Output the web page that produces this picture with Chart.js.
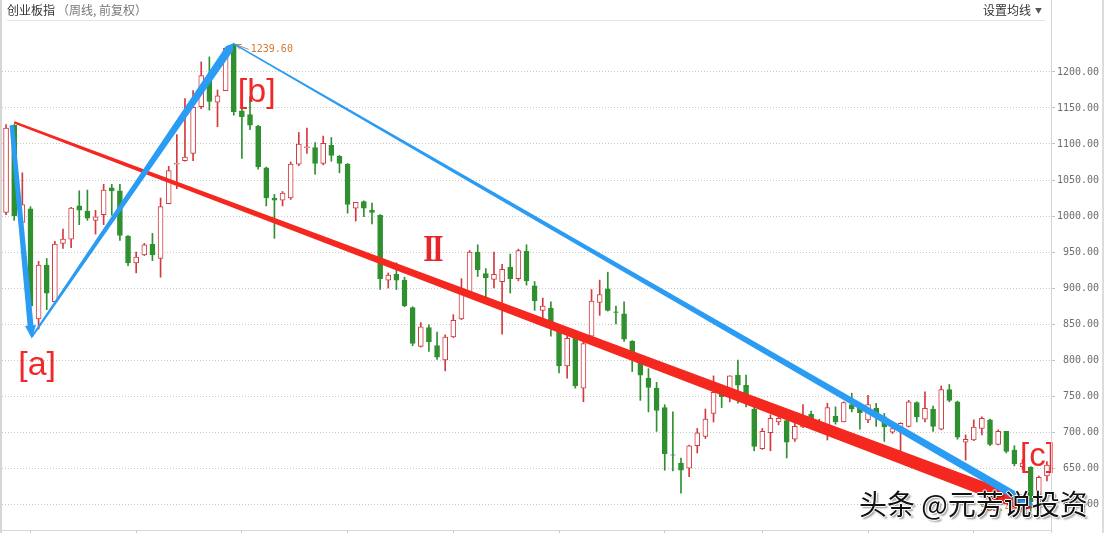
<!DOCTYPE html>
<html>
<head>
<meta charset="utf-8">
<title>创业板指 周线</title>
<script src="https://cdn.jsdelivr.net/npm/chart.js@4.4.1/dist/chart.umd.min.js"></script>
<style>
  html, body { margin: 0; padding: 0; background: #fff; }
  #wrap { position: relative; width: 1107px; height: 533px; overflow: hidden;
          font-family: "Noto Sans CJK SC", "Noto Sans", sans-serif; }
  #wrap canvas { position: absolute; left: 0; top: 0; }
  .title { position: absolute; left: 7px; top: 2px; font-size: 12px; line-height: 16px;
           color: #333; white-space: nowrap; }
  .title span { color: #777; margin-left: 2px; }
  .ma { position: absolute; right: 65px; top: 2px; font-size: 12px; line-height: 16px;
        color: #333; white-space: nowrap; }
  .ma i { font-style: normal; font-size: 7px; color: #555; margin-left: 4px; vertical-align: 2px; }
  .rule { position: absolute; left: 7px; top: 20px; width: 1038px; height: 1px; background: #e4e4e4; }
  .vline { position: absolute; top: 0; height: 533px; }
  .mark { position: absolute; left: 859px; top: 489px; font-size: 28px; line-height: 28px;
          color: #111; white-space: nowrap;
          text-shadow: 1px 0 0 #fff, -1px 0 0 #fff, 0 1px 0 #fff, 0 -1px 0 #fff,
                       2px 2px 2px rgba(0,0,0,0.45); }
</style>
</head>
<body>
<div id="wrap">
  <canvas id="kline" width="1107" height="533"></canvas>
  <div class="vline" style="left:0;width:2px;background:#d6d6d6"></div>
  <div class="vline" style="left:1051px;width:1px;background:#d4d4d4"></div>
  <div class="vline" style="left:1102px;width:2px;background:#dcdcdc"></div>
  <div class="title">创业板指<span>（周线, 前复权）</span></div>
  <div class="ma">设置均线<i>▼</i></div>
  <div class="rule"></div>
  <div class="mark">头条 @元芳说投资</div>
</div>
<script>
// Weekly OHLC of the ChiNext index (前复权)
const opens = [
  1005, 1126, 991, 1010, 857, 932, 881, 962, 968, 1014,
  1007, 994, 1002, 1039, 1035, 972, 935, 946, 961, 941,
  1017, 1072, 1077, 1087, 1152, 1195, 1158, 1174, 1238, 1146,
  1141, 1125, 1067, 1025, 1022, 1025, 1072, 1095, 1095, 1073,
  1098, 1083, 1072, 1011, 1020, 1008, 1001, 911, 919, 911,
  873, 819, 845, 820, 800, 832, 857, 894, 950, 920,
  912, 909, 929, 913, 951, 903, 869, 872, 842, 792,
  832, 761, 833, 880, 899, 867, 864, 826, 802, 775,
  761, 734, 668.5, 657, 650, 681, 694, 726, 764, 759,
  779, 765, 732, 677, 699, 714, 716, 690, 707, 725,
  712, 704, 722, 714, 738, 733, 717, 733, 721, 700,
  703, 708, 741, 718, 732, 704, 759, 742, 686, 689,
  705, 717, 683, 701, 675, 652, 651, 603, 639
];
const highs = [
  1127, 1127, 1060, 1013, 937, 941, 965, 982, 1012, 1035,
  1036, 1008, 1044, 1044, 1044, 973, 950, 962, 976, 1025,
  1069, 1113, 1163, 1174, 1214, 1221, 1175, 1234, 1239.6, 1159,
  1166, 1126, 1068, 1030, 1034, 1075, 1116, 1122, 1102, 1111,
  1109, 1084, 1073, 1019, 1021, 1018, 1002, 921, 935, 915,
  874, 852, 849, 839, 835, 863, 913, 952, 960, 927,
  950, 933, 947, 954, 960, 909, 886, 881, 849, 833,
  838, 829, 898, 911, 922, 875, 881, 827, 807, 788,
  769, 738, 728, 664, 682, 705, 732, 778, 765, 778,
  800, 779, 744, 705, 724, 728, 722, 714, 738, 729,
  718, 740, 735, 742, 754, 740, 751, 740, 726, 712,
  713, 744, 742, 756, 736, 764, 766, 743, 696, 717,
  721, 718, 703, 701, 681, 662, 652, 639, 659
];
const lows = [
  1002, 994, 991, 873, 843, 870, 880, 955, 956, 988,
  994, 975, 988, 1001, 966, 931, 921, 945, 938, 915,
  1017, 1038, 1076, 1077, 1149, 1147, 1124, 1174, 1140, 1080,
  1120, 1065, 1014, 969, 1014, 1023, 1070, 1087, 1058, 1071,
  1076, 1060, 1004, 993, 999, 989, 898, 900, 898, 874,
  820, 818, 812, 801, 785, 831, 856, 893, 916, 884,
  900, 836, 893, 910, 904, 869, 857, 833, 782, 775,
  761, 742, 833, 862, 868, 850, 826, 784, 744, 728,
  701, 647, 646, 615, 638, 671, 691, 714, 734, 742,
  740, 735, 674, 676, 674, 710, 664, 687, 706, 707,
  701, 689, 711, 714, 728, 704, 713, 708, 687, 698,
  673, 707, 714, 714, 701, 703, 742, 690, 661, 688,
  696, 681, 682, 671, 653, 648, 585.44, 598, 632
];
const closes = [
  1122, 1000, 1016, 875, 932, 893, 961, 968, 1011, 1008,
  997, 999, 1036, 1035, 973, 935, 943, 960, 946, 1013,
  1063, 1073, 1082, 1151, 1195, 1159, 1167, 1233, 1145, 1138,
  1126, 1068, 1025, 1022, 1032, 1072, 1100, 1096, 1073, 1101,
  1084, 1073, 1016, 1019, 1011, 1005, 913, 918, 911, 875,
  823, 846, 825, 804, 832, 855, 894, 950, 925, 914,
  919, 926, 913, 952, 910, 882, 875, 848, 792, 830,
  764, 823, 882, 891, 869, 866, 829, 806, 779, 762,
  730, 670, 668, 647, 681, 699, 718, 755, 749, 778,
  765, 747, 680, 701, 719, 719, 686, 708, 720, 713,
  708, 734, 714, 741, 732, 727, 738, 727, 707, 705,
  712, 742, 721, 733, 708, 759, 744, 693, 690, 707,
  719, 683, 701, 673, 656, 657, 603, 637, 654
];
const weeks = opens.map((_, i) => '第' + (i + 1) + '周');

// Price axis
const yTicks = [600, 650, 700, 750, 800, 850, 900, 950, 1000, 1050, 1100, 1150, 1200];
const yMin = 564;
const yMax = 1269.4;
// Quarter separators on the time axis (week index)
const quarterTicks = [3, 16, 29, 42, 55, 68, 81, 93, 106, 119];

// Wave annotations, as [week index, price]
const waveA = [[0.7, 1126], [3.16, 830]];
const waveAB = [[3.16, 832], [27.9, 1239.6]];
const waveC = [[27.9, 1239.6], [126.5, 596]];
const trendII = [[1, 1130], [126.4, 595]];
const waveLabels = [
  { text: '[a]', at: [1.5, 779], size: 34 },
  { text: '[b]', at: [28.5, 1159], size: 34 },
  { text: '[c]', at: [124.7, 653], size: 33 }
];
const trendLabel = { text: 'II', at: [51.3, 938] };
const highMark = { week: 28, price: 1239.6 };
const lowMark = { week: 126, price: 585.44 };

const UP = '#d33a3f';
const DOWN = '#2f902f';
const BLUE = '#2a9cf3';
const RED = '#f4281f';

const isUp = opens.map((o, i) => closes[i] >= o);

function taperedArrow(ctx, x0, y0, x1, y1, w0, w1, headW, headL, color) {
  const dx = x1 - x0, dy = y1 - y0, len = Math.hypot(dx, dy);
  const ux = dx / len, uy = dy / len, nx = -uy, ny = ux;
  const bx = x1 - ux * headL, by = y1 - uy * headL;
  const wb = w0 + (w1 - w0) * (len - headL) / len;
  ctx.beginPath();
  ctx.moveTo(x0 + nx * w0 / 2, y0 + ny * w0 / 2);
  ctx.lineTo(bx + nx * wb / 2, by + ny * wb / 2);
  if (headL > 0) {
    ctx.lineTo(bx + nx * headW / 2, by + ny * headW / 2);
    ctx.lineTo(x1, y1);
    ctx.lineTo(bx - nx * headW / 2, by - ny * headW / 2);
  }
  ctx.lineTo(bx - nx * wb / 2, by - ny * wb / 2);
  ctx.lineTo(x0 - nx * w0 / 2, y0 - ny * w0 / 2);
  ctx.closePath();
  ctx.fillStyle = color;
  ctx.fill();
}

const wavePlugin = {
  id: 'waves',
  afterDatasetsDraw(chart) {
    const { ctx, scales: { x, y } } = chart;
    const px = p => [x.getPixelForValue(p[0]), y.getPixelForValue(p[1])];
    ctx.save();

    // extreme value tags
    const hx = x.getPixelForValue(highMark.week), hy = y.getPixelForValue(highMark.price);
    ctx.strokeStyle = '#b88a6a';
    ctx.lineWidth = 1;
    ctx.beginPath();
    ctx.moveTo(hx + 2, hy + 1); ctx.lineTo(hx + 15, hy + 6);
    ctx.moveTo(hx + 2, hy + 1); ctx.lineTo(hx + 8, hy + 1);
    ctx.moveTo(hx + 2, hy + 1); ctx.lineTo(hx + 6, hy + 6);
    ctx.stroke();
    ctx.font = '10px "DejaVu Sans Mono", monospace';
    ctx.fillStyle = '#d27a34';
    ctx.textBaseline = 'middle';
    ctx.textAlign = 'left';
    ctx.fillText(highMark.price.toFixed(2), hx + 17, hy + 6);
    const lx = x.getPixelForValue(lowMark.week), ly = y.getPixelForValue(lowMark.price);
    ctx.beginPath();
    ctx.moveTo(lx - 2, ly); ctx.lineTo(lx - 13, ly - 5);
    ctx.stroke();
    ctx.textAlign = 'right';
    ctx.fillText(lowMark.price.toFixed(2), lx - 14, ly - 6);

    // trend line Ⅱ, then the three waves
    let a = px(trendII[0]), b = px(trendII[1]);
    taperedArrow(ctx, a[0], a[1], b[0], b[1], 2.5, 14, 18, 14, RED);
    a = px(waveA[0]); b = px(waveA[1]);
    taperedArrow(ctx, a[0], a[1], b[0], b[1], 4.5, 6, 11, 13, BLUE);
    a = px(waveAB[0]); b = px(waveAB[1]);
    taperedArrow(ctx, a[0], a[1], b[0], b[1], 2, 8.5, 8.5, 6, BLUE);
    a = px(waveC[0]); b = px(waveC[1]);
    taperedArrow(ctx, a[0], a[1], b[0], b[1], 1.5, 8, 13, 13, BLUE);

    // labels
    ctx.fillStyle = '#f0282a';
    ctx.textAlign = 'left';
    ctx.textBaseline = 'alphabetic';
    for (const l of waveLabels) {
      const p = px(l.at);
      ctx.font = l.size + 'px "Liberation Sans", Arial, sans-serif';
      ctx.fillText(l.text, p[0], p[1]);
    }
    // Roman numeral Ⅱ: narrow bold serif with the serifs run together
    const t = px(trendLabel.at);
    ctx.fillStyle = '#e8262a';
    ctx.font = 'bold 38px "Liberation Serif", "DejaVu Serif", serif';
    ctx.letterSpacing = '-3px';
    const w = ctx.measureText(trendLabel.text).width;
    ctx.translate(t[0], t[1]);
    ctx.scale(18 / w, 1);
    ctx.fillText(trendLabel.text, 0, 0);
    ctx.restore();
  }
};

new Chart(document.getElementById('kline'), {
  type: 'bar',
  data: {
    labels: weeks,
    datasets: [
      {
        label: 'wick',
        data: lows.map((l, i) => [l, highs[i]]),
        backgroundColor: isUp.map(u => u ? UP : DOWN),
        borderWidth: 0,
        barThickness: 1,
        grouped: false,
        order: 2
      },
      {
        label: 'body',
        data: opens.map((o, i) => [o, closes[i]]),
        backgroundColor: isUp.map(u => u ? '#ffffff' : DOWN),
        borderColor: isUp.map(u => u ? UP : DOWN),
        borderWidth: 1,
        borderSkipped: false,
        barThickness: 5,
        grouped: false,
        order: 1
      }
    ]
  },
  options: {
    responsive: false,
    animation: false,
    devicePixelRatio: 1,
    layout: { padding: { left: 2, top: 22, right: 0, bottom: 0 } },
    plugins: { legend: { display: false }, tooltip: { enabled: false } },
    scales: {
      x: {
        type: 'category',
        offset: true,
        grid: { display: true, drawOnChartArea: false, drawTicks: true, tickLength: 3,
                offset: false, color: '#c8c8c8' },
        border: { display: true, color: '#d8d8d8' },
        ticks: { display: false },
        afterBuildTicks: s => { s.ticks = quarterTicks.map(v => ({ value: v })); },
        afterFit: s => { s.height = 3; s.paddingLeft = 0; s.paddingRight = 0; }
      },
      y: {
        position: 'right',
        min: yMin,
        max: yMax,
        bounds: 'data',
        grid: { color: '#c9c9c9', tickLength: 4, tickBorderDash: [], tickColor: '#c4c4c4' },
        border: { display: false, dash: [1, 2] },
        ticks: {
          crossAlign: 'near',
          padding: 2,
          color: '#6e6e6e',
          font: { family: '"DejaVu Sans Mono", monospace', size: 10 },
          callback: v => Number(v).toFixed(2).padStart(7, ' ')
        },
        afterBuildTicks: s => { s.ticks = yTicks.map(v => ({ value: v })); },
        afterFit: s => { s.width = 56; s.paddingTop = 0; s.paddingBottom = 0; }
      }
    }
  },
  plugins: [wavePlugin]
});
</script>
</body>
</html>
